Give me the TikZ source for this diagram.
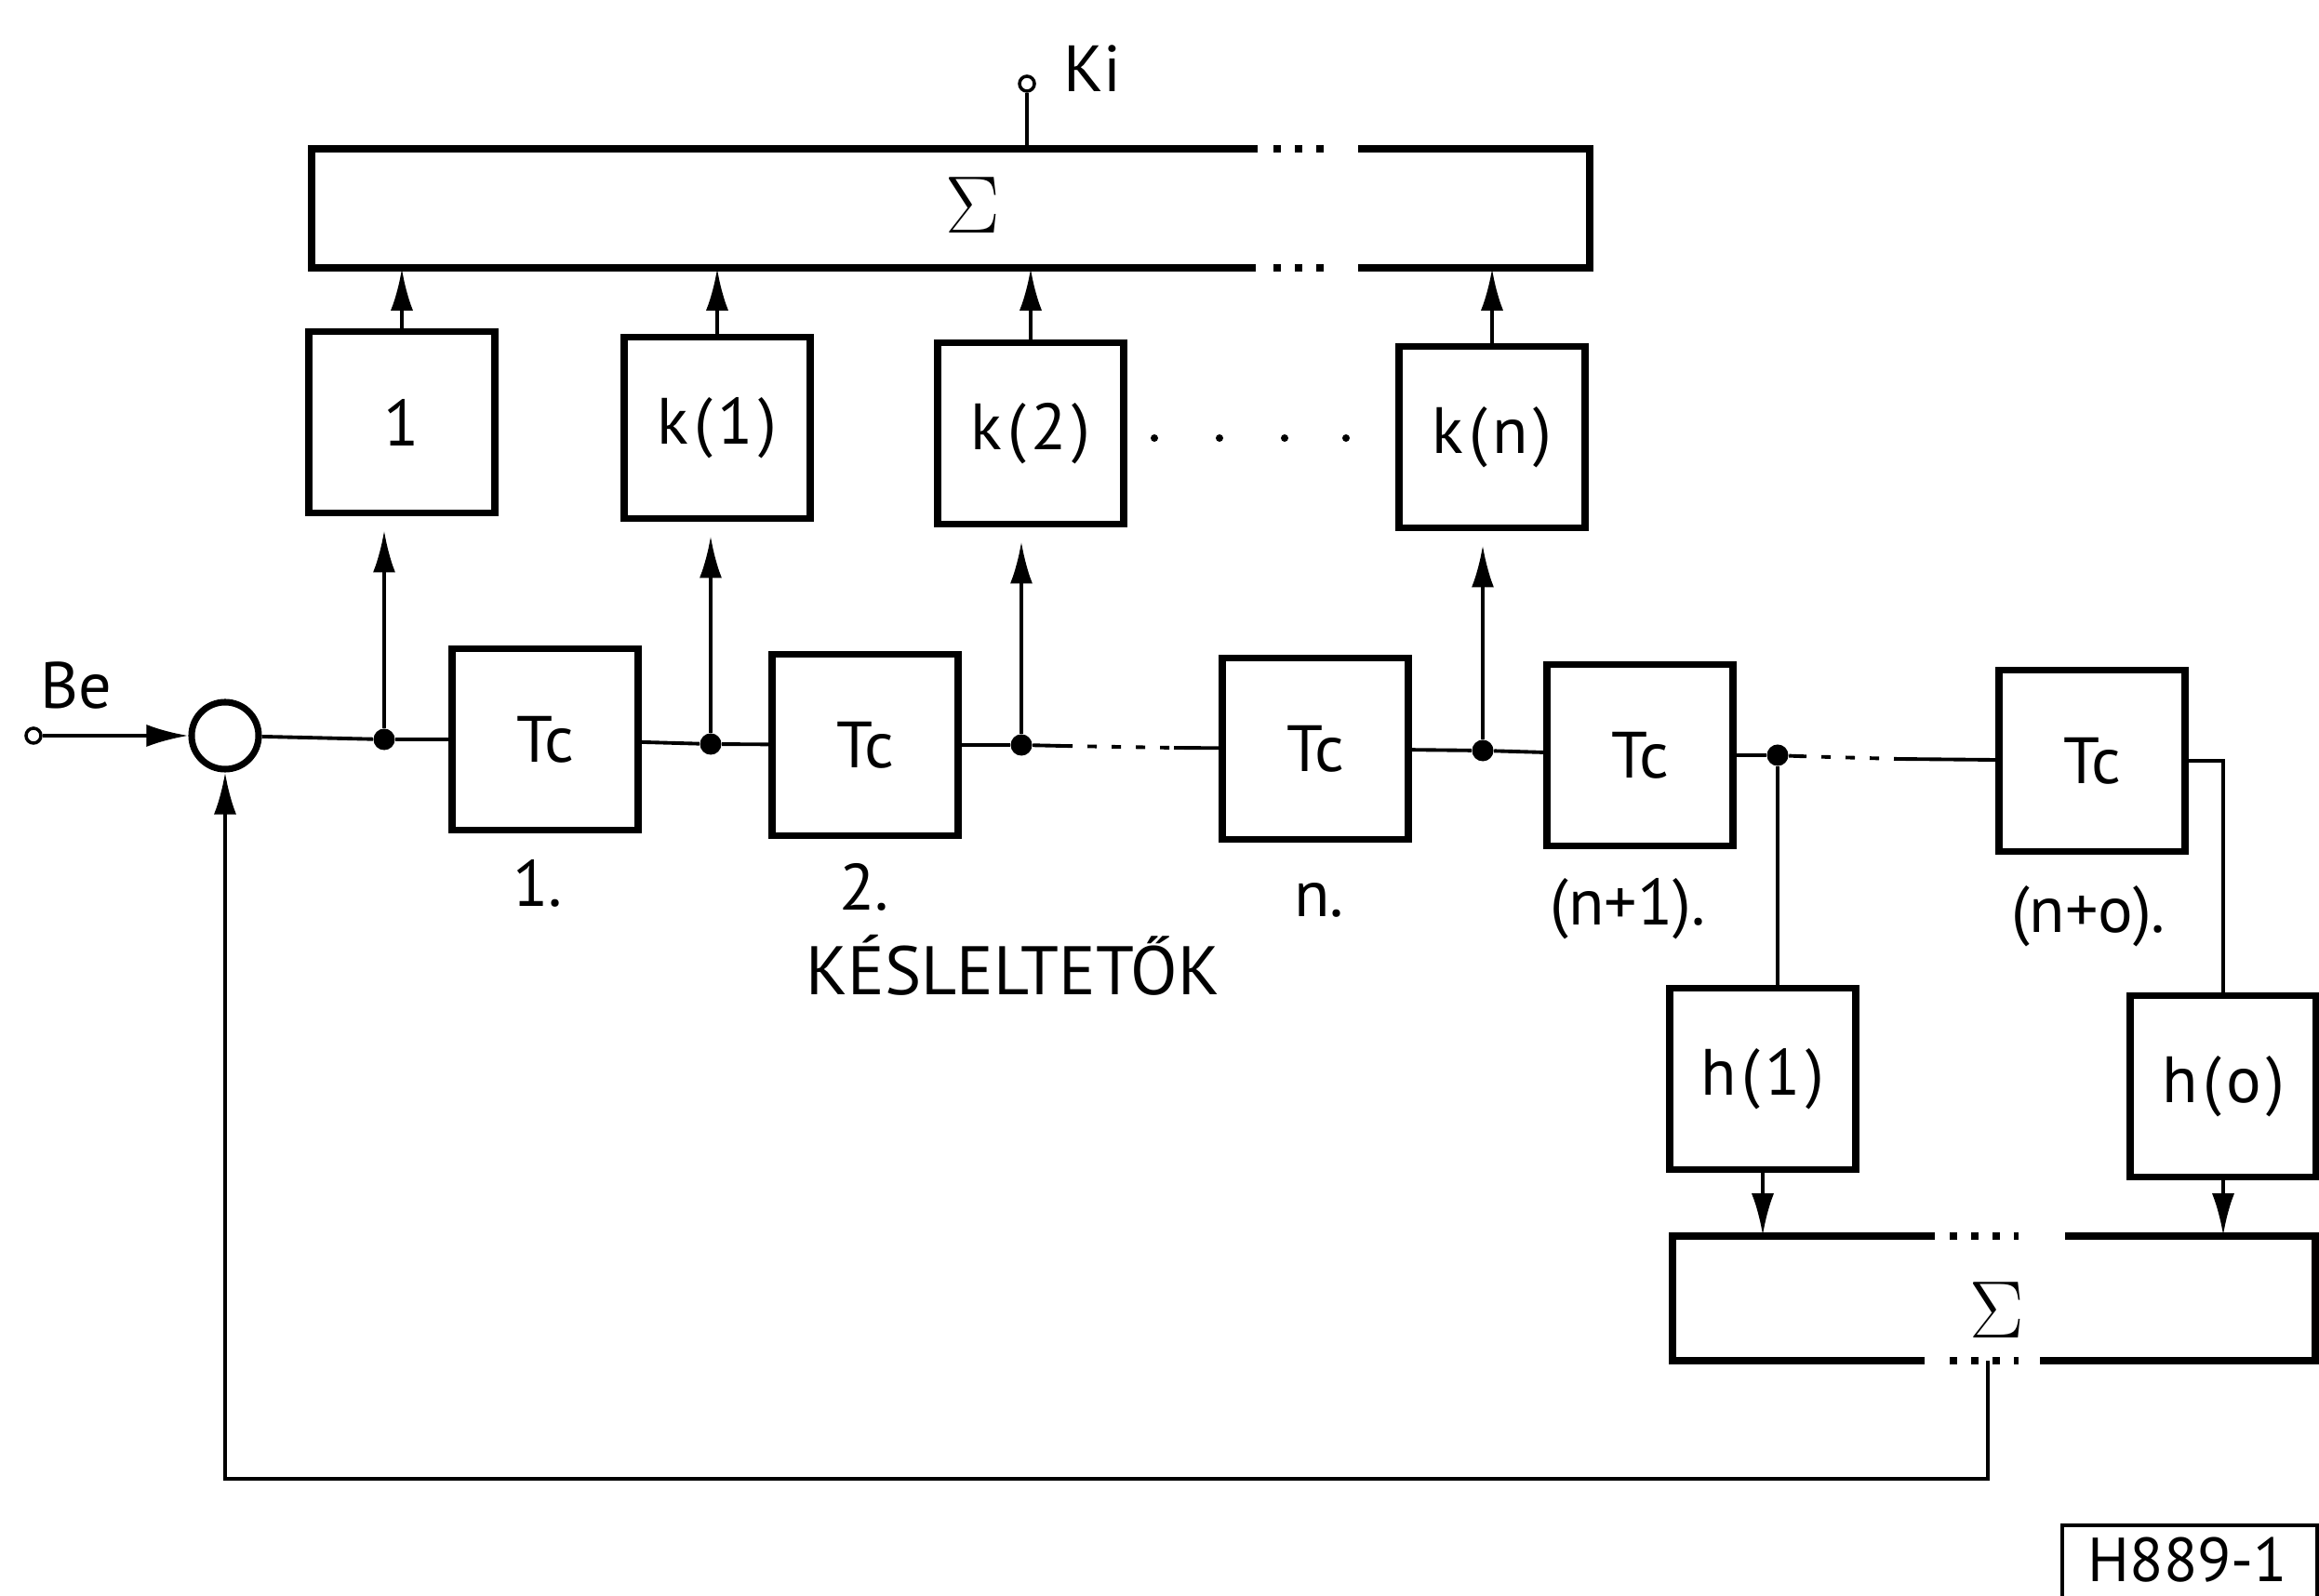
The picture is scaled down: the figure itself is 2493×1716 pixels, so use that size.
\documentclass[tikz,border=0pt]{standalone}
\usepackage[no-math]{fontspec}
\setmainfont{PT Sans}
\newfontfamily\spacedfont[LetterSpace=8]{PT Sans}
\usetikzlibrary{arrows.meta,calc}

\tikzset{
  block/.style={draw, line width=2.2pt, minimum width=2cm, minimum height=1.95cm,
    inner sep=0pt, font=\fontsize{20}{22}\selectfont},
  coef/.style={block, font=\fontsize{20}{22}\selectfont\spacedfont},
  thickline/.style={line width=2.2pt},
  dotgap/.style={dash pattern=on 0.8mm off 1.5mm},
  wire/.style={line width=1.1pt},
  gapline/.style={wire, dash pattern=on 1mm off 1.6mm},
  sig/.style={wire, -{Latex[length=4.5mm,width=2.4mm]}},
  junc/.style={circle, fill, inner sep=0pt, minimum size=2.3mm},
  term/.style={circle, draw, line width=1pt, inner sep=0pt, minimum size=1.6mm},
  lab/.style={anchor=base, font=\fontsize{20}{22}\selectfont},
}

\begin{document}
\begin{tikzpicture}[x=0.01cm, y=-0.01cm]
    \useasboundingbox (0,0) rectangle (2493,1716);

    % Upper summing box
    \node (sumk) [minimum width=13.74cm, minimum height=1.28cm, inner sep=0pt] at (1022,224) {};
    \node (sigk) at (1046,221) {\fontsize{32}{34}\selectfont$\Sigma$};
    \draw[thickline] (1352,160) -- (335,160) -- (335,288) -- (1350,288);
    \draw[thickline] (1460,160) -- (1709,160) -- (1709,288) -- (1460,288);
    \draw[thickline, dotgap] (1369,160) -- (1432,160);
    \draw[thickline, dotgap] (1369,288) -- (1432,288);

    % Output
    \node (ki) [term] at (1104,90) {};
    \node (kilab) [font=\fontsize{20}{22}\selectfont] at (1174,74) {Ki};
    \draw[wire] (ki) -- (ki |- sumk.north);

    % Coefficient boxes
    \node (c0) [coef] at (432,454) {1};
    \node (c1) [coef] at (771,460) {k(1)};
    \node (c2) [coef] at (1108,466) {k(2)};
    \node (cn) [coef] at (1604,470) {k(n)};
    \foreach \c in {c0,c1,c2,cn}
        \draw[sig] (\c.north) -- (\c.north |- sumk.south);
    \foreach \x in {1241,1311,1381,1447}
        \fill (\x,471) circle (4);

    % Input and summing point
    \node (be) [term] at (36,791) {};
    \node (belab) [lab] at (82,762) {Be};
    \node (mix) [circle, draw, line width=2pt, minimum size=0.72cm, inner sep=0pt] at (242,791) {};
    \draw[sig] (be) -- (mix);

    % Delay chain
    \node (d1) [block] at (586,795) {Tc};
    \node (d2) [block] at (930,801) {Tc};
    \node (dn) [block] at (1414,805) {Tc};
    \node (dn1) [block] at (1763,812) {Tc};
    \node (dno) [block] at (2249,818) {Tc};

    \node (j1) [junc] at (413,795) {};
    \node (j2) [junc] at (764,800) {};
    \node (j3) [junc] at (1098,801) {};
    \node (j4) [junc] at (1594,807) {};
    \node (j5) [junc] at (1911,812) {};
    \coordinate (g1a) at (1143,802);
    \coordinate (g1b) at (1262,804);
    \coordinate (g2a) at (1932,813);
    \coordinate (g2b) at (2041,816);

    \draw[wire] (mix) -- (j1) -- (d1) (d1) -- (j2) -- (d2) (d2) -- (j3) -- (g1a);
    \draw[gapline] (g1a) -- (g1b);
    \draw[wire] (g1b) -- (dn) (dn) -- (j4) -- (dn1) (dn1) -- (j5) -- (g2a);
    \draw[gapline] (g2a) -- (g2b);
    \draw[wire] (g2b) -- (dno);

    % Taps
    \foreach \j/\c in {j1/c0, j2/c1, j3/c2, j4/cn}
        \draw[sig, shorten >=1.5mm] (\j) -- (\j |- \c.south);

    % Stage labels
    \node (n1) [lab] at (578,975) {1.};
    \node (n2) [lab] at (929,979) {2.};
    \node (nn) [lab] at (1418,986) {n.};
    \node (nn1) [lab] at (1750,995) {(n+1).};
    \node (nno) [lab] at (2245,1003) {(n+o).};
    \node (title) [lab, font=\fontsize{21}{24}\selectfont] at (1089,1070) {KÉSLELTETŐK};

    % Weights of the feedback branch
    \node (h1) [coef] at (1895,1160) {h(1)};
    \node (ho) [coef] at (2390,1168) {h(o)};
    \draw[wire] (j5) -- (j5 |- h1.north);
    \draw[wire] (dno.east) -| (ho.north);

    % Lower summing box
    \node (sumh) [minimum width=6.91cm, minimum height=1.34cm, inner sep=0pt] at (2143,1396) {};
    \node (sigh) at (2147,1409) {\fontsize{30}{32}\selectfont$\Sigma$};
    \draw[thickline] (2080,1329) -- (1798,1329) -- (1798,1463) -- (2069,1463);
    \draw[thickline] (2220,1329) -- (2489,1329) -- (2489,1463) -- (2193,1463);
    \draw[thickline, dotgap] (2096,1329) -- (2170,1329);
    \draw[thickline, dotgap] (2096,1463) -- (2170,1463);
    \foreach \h in {h1,ho}
        \draw[sig] (\h.south) -- (\h.south |- sumh.north);

    % Feedback path
    \coordinate (fbout) at (2137,1463);
    \draw[sig] (fbout) -- ++(0,127) -| (mix.south);

    % Drawing number
    \draw[wire] (2217,1640) rectangle (2491,1740);
    \node (num) [font=\fontsize{19}{21}\selectfont] at (2352,1677) {H889-1};
\end{tikzpicture}
\end{document}
